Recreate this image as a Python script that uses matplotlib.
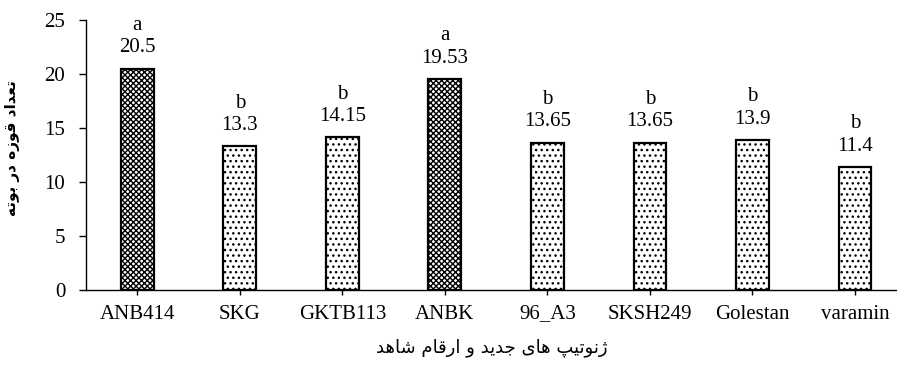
import matplotlib
matplotlib.use("Agg")
import matplotlib.pyplot as plt

# ---- data ----
genotypes = ["ANB414", "SKG", "GKTB113", "ANBK", "96_A3", "SKSH249", "Golestan", "varamin"]
boll_counts = [20.5, 13.3, 14.15, 19.53, 13.65, 13.65, 13.9, 11.4]
groups = ["a", "b", "b", "a", "b", "b", "b", "b"]
y_ticks = [0, 5, 10, 15, 20, 25]

x_title = "ژنوتیپ های جدید و ارقام شاهد"
y_title = "تعداد قوزه در بوته"

# ---- minimal Arabic/Persian shaping (matplotlib has no complex text layout) ----
# letter: (isolated, final, initial, medial)
FORMS = {
    "ا": ("\uFE8D", "\uFE8E", "\uFE8D", "\uFE8E"),
    "ب": ("\uFE8F", "\uFE90", "\uFE91", "\uFE92"),
    "پ": ("\uFB56", "\uFB57", "\uFB58", "\uFB59"),
    "ت": ("\uFE95", "\uFE96", "\uFE97", "\uFE98"),
    "ج": ("\uFE9D", "\uFE9E", "\uFE9F", "\uFEA0"),
    "د": ("\uFEA9", "\uFEAA", "\uFEA9", "\uFEAA"),
    "ر": ("\uFEAD", "\uFEAE", "\uFEAD", "\uFEAE"),
    "ز": ("\uFEAF", "\uFEB0", "\uFEAF", "\uFEB0"),
    "ژ": ("\uFB8A", "\uFB8B", "\uFB8A", "\uFB8B"),
    "ش": ("\uFEB5", "\uFEB6", "\uFEB7", "\uFEB8"),
    "ع": ("\uFEC9", "\uFECA", "\uFECB", "\uFECC"),
    "ق": ("\uFED5", "\uFED6", "\uFED7", "\uFED8"),
    "م": ("\uFEE1", "\uFEE2", "\uFEE3", "\uFEE4"),
    "ن": ("\uFEE5", "\uFEE6", "\uFEE7", "\uFEE8"),
    "ه": ("\uFEE9", "\uFEEA", "\uFEEB", "\uFEEC"),
    "و": ("\uFEED", "\uFEEE", "\uFEED", "\uFEEE"),
    "ی": ("\uFBFC", "\uFBFD", "\uFBFE", "\uFBFF"),
}
RIGHT_JOINING = set("ادرزژو")


def shape_rtl(text):
    chars = list(text)
    out = []
    for i, ch in enumerate(chars):
        if ch not in FORMS:
            out.append(ch)
            continue
        prev = chars[i - 1] if i > 0 else None
        nxt = chars[i + 1] if i + 1 < len(chars) else None
        joins_prev = prev in FORMS and prev not in RIGHT_JOINING
        joins_next = ch not in RIGHT_JOINING and nxt in FORMS
        iso, fin, ini, med = FORMS[ch]
        if joins_prev and joins_next:
            out.append(med)
        elif joins_prev:
            out.append(fin)
        elif joins_next:
            out.append(ini)
        else:
            out.append(iso)
    return "".join(reversed(out))


# ---- styling ----
plt.rcParams["font.family"] = ["Liberation Serif", "DejaVu Serif"]
plt.rcParams["hatch.linewidth"] = 1.0
hatches = {"a": "xxxxxx", "b": "..."}
label_fs = 15

fig = plt.figure(figsize=(8.97, 3.65), dpi=100)
ax = fig.add_axes([0.0959, 0.2055, 0.9041, 0.7397])

x = list(range(len(genotypes)))
for xi, v, g in zip(x, boll_counts, groups):
    ax.bar(xi, v, width=0.32, color="white", edgecolor="black",
           linewidth=1.6, hatch=hatches[g], zorder=2)
    ax.annotate(f"{g}\n{v:g}", xy=(xi, v), xytext=(0, 8),
                textcoords="offset points", ha="center", va="bottom",
                fontsize=label_fs, linespacing=1.25)

ax.set_xlim(-0.5, 7.41)
ax.set_ylim(0, 25)
ax.set_yticks(y_ticks)
ax.set_xticks(x)
ax.set_xticklabels(genotypes)
ax.tick_params(axis="both", labelsize=label_fs, direction="out", length=5,
               width=1.0, color="black")
ax.tick_params(axis="y", pad=10)
ax.tick_params(axis="x", pad=7, length=3.5)

for side in ("top", "right"):
    ax.spines[side].set_visible(False)
for side in ("left", "bottom"):
    ax.spines[side].set_linewidth(1.0)

ax.set_xlabel(shape_rtl(x_title), family=["DejaVu Sans"], fontsize=13, labelpad=11)
fig.text(0.0134, 0.5945, shape_rtl(y_title), family=["DejaVu Sans"], fontsize=11,
         fontweight="bold", rotation=90, ha="center", va="center")

fig.savefig("out.png", dpi=100)
